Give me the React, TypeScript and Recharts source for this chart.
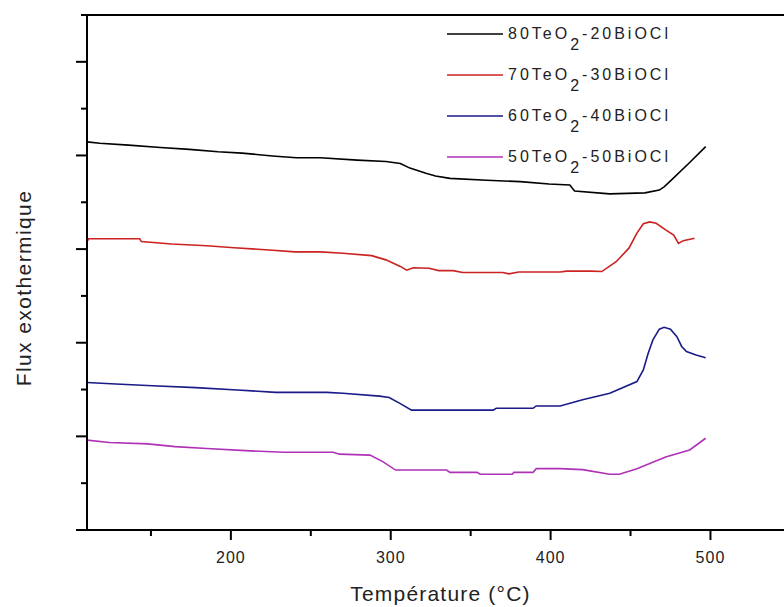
import { LineChart, Line, XAxis, YAxis, ReferenceLine, Legend } from 'recharts';

const FONT = '"Liberation Sans", Arial, sans-serif';
const TEXT = '#222';

// temperatures (°C) and heat-flow readings (arbitrary units) per glass composition
const blackT = [110, 118, 136, 156, 174, 192, 207, 226, 241, 256, 279, 297, 306, 312, 322, 328, 337, 360, 381, 399, 412, 415, 437, 459, 468, 471, 476, 487, 497];
const blackV = [8.29, 8.26, 8.22, 8.17, 8.13, 8.08, 8.05, 7.99, 7.95, 7.95, 7.9, 7.87, 7.83, 7.73, 7.62, 7.56, 7.51, 7.47, 7.44, 7.39, 7.37, 7.24, 7.18, 7.2, 7.26, 7.33, 7.49, 7.85, 8.19];

const redT = [110, 111, 143, 144, 163, 185, 202, 224, 240, 256, 270, 288, 297, 306, 310, 314, 324, 330, 339, 345, 370, 374, 380, 406, 410, 425, 432, 441, 449, 454, 458, 462, 466, 472, 477, 480, 483, 490];
const redV = [6.16, 6.22, 6.22, 6.16, 6.11, 6.07, 6.03, 5.98, 5.94, 5.94, 5.91, 5.86, 5.77, 5.63, 5.55, 5.6, 5.59, 5.54, 5.54, 5.5, 5.5, 5.47, 5.51, 5.51, 5.53, 5.53, 5.52, 5.73, 6.02, 6.34, 6.54, 6.58, 6.55, 6.41, 6.3, 6.12, 6.18, 6.23];

const blueT = [110, 128, 151, 178, 204, 228, 260, 270, 293, 299, 306, 313, 364, 366, 389, 391, 406, 420, 437, 454, 458, 461, 464, 468, 471, 475, 479, 482, 485, 491, 497];
const blueV = [3.15, 3.12, 3.08, 3.04, 2.99, 2.94, 2.94, 2.92, 2.86, 2.83, 2.7, 2.56, 2.56, 2.6, 2.6, 2.65, 2.65, 2.78, 2.92, 3.17, 3.42, 3.77, 4.06, 4.29, 4.33, 4.29, 4.13, 3.92, 3.81, 3.74, 3.68];

const magT = [110, 124, 148, 165, 185, 212, 233, 264, 268, 287, 295, 303, 335, 337, 354, 356, 376, 377, 389, 391, 406, 420, 437, 443, 454, 462, 472, 487, 497];
const magV = [1.92, 1.87, 1.84, 1.78, 1.74, 1.69, 1.66, 1.66, 1.62, 1.6, 1.46, 1.28, 1.28, 1.23, 1.23, 1.19, 1.19, 1.23, 1.23, 1.31, 1.31, 1.29, 1.19, 1.19, 1.31, 1.42, 1.56, 1.71, 1.96];

const xTicks = [150, 200, 250, 300, 350, 400, 450, 500];
const yTicks = [0, 1, 2, 3, 4, 5, 6, 7, 8, 9, 10, 11];

const toPoints = (ts: number[], vs: number[]) => ts.map((t, i) => ({ t, v: vs[i] }));

const series = [
  { key: 'a', pre: '80TeO', post: '-20BiOCl', color: '#000000', data: toPoints(blackT, blackV) },
  { key: 'b', pre: '70TeO', post: '-30BiOCl', color: '#cc2222', data: toPoints(redT, redV) },
  { key: 'c', pre: '60TeO', post: '-40BiOCl', color: '#1a1a88', data: toPoints(blueT, blueV) },
  { key: 'd', pre: '50TeO', post: '-50BiOCl', color: '#b030b8', data: toPoints(magT, magV) },
];

const XTick = (props: any) => {
  const { x, y, payload } = props;
  const major = payload.value % 100 === 0;
  return (
    <g>
      <line x1={x} y1={y} x2={x} y2={y + (major ? 10 : 6)} stroke="#000" strokeWidth={2} />
      {major && (
        <text x={x} y={y + 27} textAnchor="middle" dominantBaseline="central"
          fontFamily={FONT} fontSize={16} letterSpacing={1} fill={TEXT}>
          {payload.value}
        </text>
      )}
    </g>
  );
};

const YTick = (props: any) => {
  const { x, y, payload } = props;
  const long = payload.value % 2 === 0;
  return <line x1={x} y1={y} x2={x - (long ? 11 : 6)} y2={y} stroke="#000" strokeWidth={2} />;
};

const XTitle = (props: any) => {
  const vb = props.viewBox;
  return (
    <text x={vb.x + vb.width / 2 + 5} y={593} textAnchor="middle" dominantBaseline="central"
      fontFamily={FONT} fontSize={21} letterSpacing={1.2} fill={TEXT}>
      Température (°C)
    </text>
  );
};

const YTitle = () => (
  <text x={23} y={288} transform="rotate(-90 23 288)" textAnchor="middle" dominantBaseline="central"
    fontFamily={FONT} fontSize={21} letterSpacing={1.4} fill={TEXT}>
    Flux exothermique
  </text>
);

const LegendBox = () => (
  <div style={{ fontFamily: FONT, fontSize: 16, color: TEXT }}>
    {series.map((s) => (
      <div key={s.key} style={{ display: 'flex', alignItems: 'center', height: 40.8 }}>
        <svg width={56} height={4} style={{ marginRight: 5 }}>
          <line x1={0} y1={2} x2={56} y2={2} stroke={s.color} strokeWidth={1.6} />
        </svg>
        <span style={{ letterSpacing: 3, whiteSpace: 'nowrap' }}>
          {s.pre}
          <span style={{ position: 'relative', top: 11 }}>2</span>
          {s.post}
        </span>
      </div>
    ))}
  </div>
);

const App = () => (
  <div style={{ position: 'absolute', left: 0, top: 0, width: 784, height: 607, background: '#fff' }}>
    <LineChart width={784} height={607} margin={{ top: 15, right: 0, bottom: 47, left: 27 }}>
      <XAxis type="number" dataKey="t" domain={[110, 546]} ticks={xTicks} interval={0}
        allowDataOverflow tick={<XTick />} tickLine={false} tickSize={0} tickMargin={0}
        axisLine={{ stroke: '#000', strokeWidth: 2 }} height={30} label={<XTitle />} />
      <YAxis type="number" domain={[0, 11]} ticks={yTicks} interval={0} width={60}
        tick={<YTick />} tickLine={false} tickSize={0} tickMargin={0}
        axisLine={{ stroke: '#000', strokeWidth: 2 }} label={<YTitle />} />
      <ReferenceLine y={11} stroke="#000" strokeWidth={2} />
      <Legend layout="vertical" align="center" verticalAlign="middle" content={<LegendBox />}
        wrapperStyle={{ left: 447, top: 14, width: 260 }} />
      {series.map((s) => (
        <Line key={s.key} data={s.data} dataKey="v" name={s.pre + '2' + s.post} type="linear"
          stroke={s.color} strokeWidth={1.6} dot={false} activeDot={false} isAnimationActive={false} />
      ))}
    </LineChart>
  </div>
);

export default App;
